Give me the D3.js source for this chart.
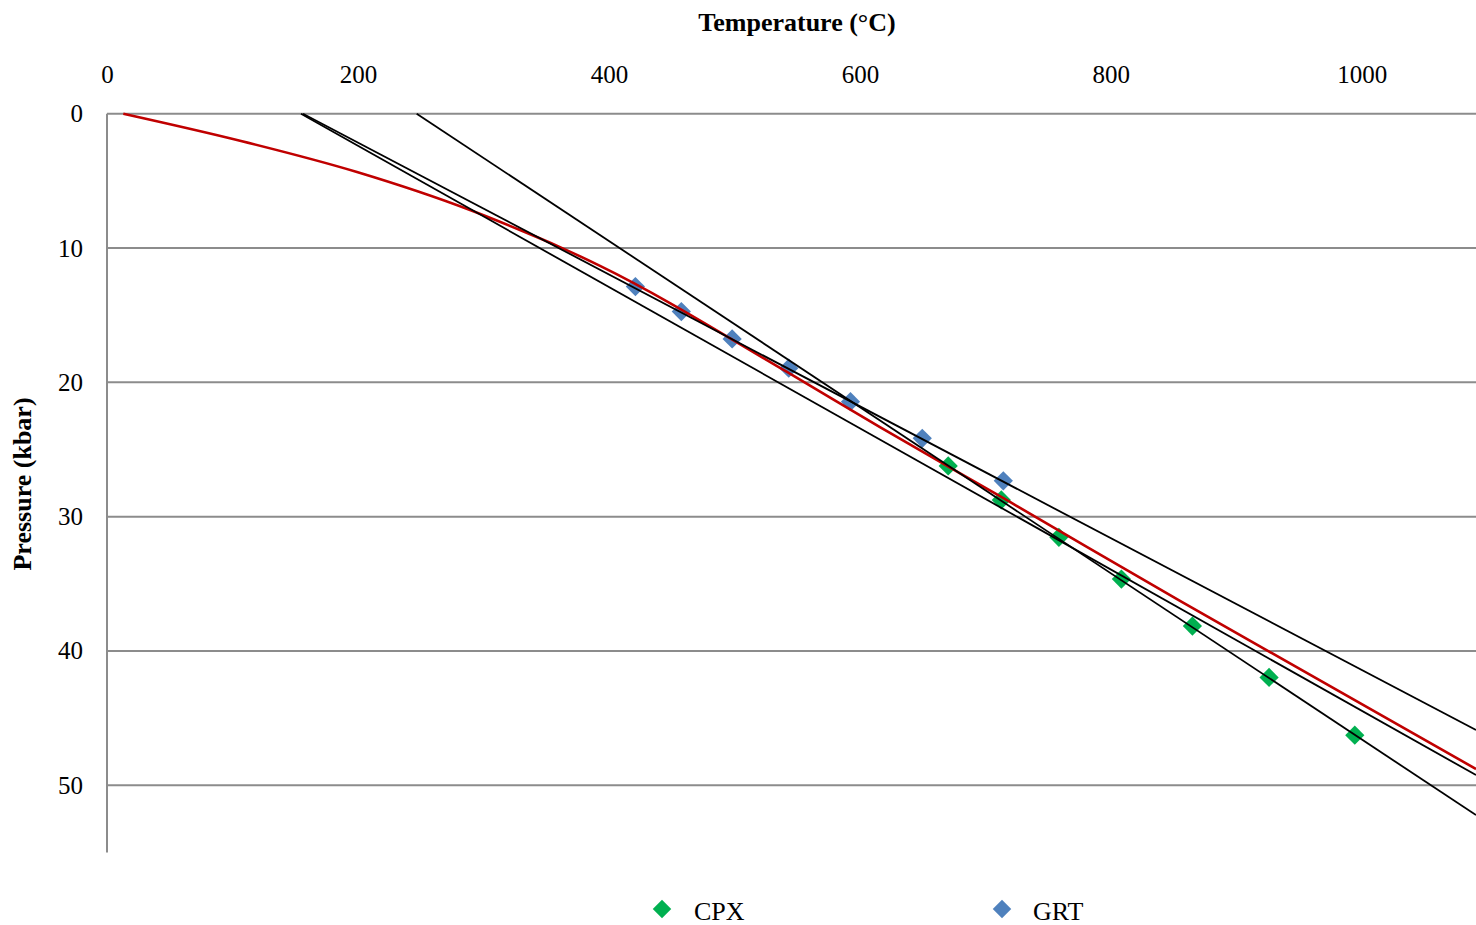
<!DOCTYPE html>
<html>
<head>
<meta charset="utf-8">
<script src="https://cdn.jsdelivr.net/npm/d3@7"></script>
<style>
  html, body { margin: 0; padding: 0; background: #fff; }
  svg { display: block; }
  text { font-family: "Liberation Serif", "Times New Roman", serif; fill: #000; }
</style>
</head>
<body>
<svg id="chart" width="1476" height="925"></svg>
<script>
// Axis ticks
const tempTicks = [0, 200, 400, 600, 800, 1000];
const pressTicks = [0, 10, 20, 30, 40, 50];

// Clinopyroxene thermobarometry (°C, kbar)
const cpxT = [670.4, 712.7, 758.6, 808.4, 865.0, 926.1, 994.4];
const cpxP = [26.23, 28.76, 31.54, 34.65, 38.15, 41.97, 46.27];

// Garnet thermobarometry (°C, kbar)
const grtT = [421.1, 457.7, 498.2, 543.3, 592.5, 649.7, 714.3];
const grtP = [12.87, 14.73, 16.77, 18.95, 21.44, 24.17, 27.33];

// Model geotherm
const geoT = [13, 106.8, 199.2, 289.3, 329.1, 361.0, 392.9, 541.9, 616.0, 719.6, 855.1, 1091];
const geoP = [0, 2.03, 4.34, 7.17, 8.66, 9.93, 11.33, 19.23, 23.33, 28.91, 36.28, 48.79];

// Linear regressions (end points)
const cpxFitT = [246.8, 1091];
const cpxFitP = [0, 52.22];
const grtFitT = [156.2, 1091];
const grtFitP = [0, 45.89];
const allFitT = [154.6, 1091];
const allFitP = [0, 49.24];

const svg = d3.select("#chart");
const plotLeft = 107, plotRight = 1476, plotTop = 113.7, plotBottom = 852.4;

const x = d3.scaleLinear().domain([0, 1091]).range([plotLeft, plotRight]);
const y = d3.scaleLinear().domain([0, 55]).range([plotTop, plotBottom]);

// Horizontal gridlines
svg.append("g")
  .selectAll("line")
  .data(pressTicks)
  .join("line")
  .attr("x1", plotLeft).attr("x2", plotRight)
  .attr("y1", d => y(d)).attr("y2", d => y(d))
  .attr("stroke", "#8c8c8c").attr("stroke-width", 2);

// Vertical axis line
svg.append("line")
  .attr("x1", plotLeft).attr("x2", plotLeft)
  .attr("y1", plotTop).attr("y2", plotBottom)
  .attr("stroke", "#8c8c8c").attr("stroke-width", 2);

// Top temperature axis labels
const xAxis = svg.append("g")
  .attr("transform", `translate(0,${plotTop})`)
  .call(d3.axisTop(x).tickValues(tempTicks).tickSize(0).tickPadding(31).tickFormat(d3.format("d")));
xAxis.select(".domain").remove();
xAxis.selectAll("text")
  .style("font-family", '"Liberation Serif", "Times New Roman", serif')
  .style("font-size", "25px").attr("fill", "#000");

// Left pressure axis labels
const yAxis = svg.append("g")
  .attr("transform", `translate(${plotLeft},0)`)
  .call(d3.axisLeft(y).tickValues(pressTicks).tickSize(0).tickPadding(24).tickFormat(d3.format("d")));
yAxis.select(".domain").remove();
yAxis.selectAll("text")
  .style("font-family", '"Liberation Serif", "Times New Roman", serif')
  .style("font-size", "25px").attr("fill", "#000");

// Axis titles
svg.append("text")
  .attr("x", 797).attr("y", 31)
  .attr("text-anchor", "middle")
  .style("font-size", "26px").style("font-weight", "bold")
  .text("Temperature (°C)");

svg.append("text")
  .attr("transform", "translate(31,484) rotate(-90)")
  .attr("text-anchor", "middle")
  .style("font-size", "26px").style("font-weight", "bold")
  .text("Pressure (kbar)");

// Plot clip
svg.append("clipPath").attr("id", "plotClip")
  .append("rect").attr("x", plotLeft).attr("y", plotTop - 2)
  .attr("width", plotRight - plotLeft).attr("height", plotBottom - plotTop + 2);

const plot = svg.append("g").attr("clip-path", "url(#plotClip)");

const diamond = d3.symbol().type(d3.symbolSquare).size(185);

// Markers
plot.append("g")
  .selectAll("path")
  .data(grtT.map((t, i) => [t, grtP[i]]))
  .join("path")
  .attr("d", diamond)
  .attr("transform", d => `translate(${x(d[0])},${y(d[1])}) rotate(45)`)
  .attr("fill", "#4f81bd");

plot.append("g")
  .selectAll("path")
  .data(cpxT.map((t, i) => [t, cpxP[i]]))
  .join("path")
  .attr("d", diamond)
  .attr("transform", d => `translate(${x(d[0])},${y(d[1])}) rotate(45)`)
  .attr("fill", "#00b050");

// Geotherm
const geoLine = d3.line().x(d => x(d[0])).y(d => y(d[1])).curve(d3.curveMonotoneX);
plot.append("path")
  .datum(geoT.map((t, i) => [t, geoP[i]]))
  .attr("d", geoLine)
  .attr("fill", "none")
  .attr("stroke", "#c00000")
  .attr("stroke-width", 2.6);

// Regression lines
const straight = d3.line().x(d => x(d[0])).y(d => y(d[1]));
[[cpxFitT, cpxFitP], [grtFitT, grtFitP], [allFitT, allFitP]].forEach(([ts, ps]) => {
  plot.append("path")
    .datum(ts.map((t, i) => [t, ps[i]]))
    .attr("d", straight)
    .attr("fill", "none")
    .attr("stroke", "#000")
    .attr("stroke-width", 1.8);
});

// Legend
const legendItems = [
  { name: "CPX", color: "#00b050", mx: 662, tx: 694 },
  { name: "GRT", color: "#4f81bd", mx: 1002, tx: 1033 }
];
const legend = svg.append("g");
legend.selectAll("path")
  .data(legendItems)
  .join("path")
  .attr("d", d3.symbol().type(d3.symbolSquare).size(170))
  .attr("transform", d => `translate(${d.mx},909) rotate(45)`)
  .attr("fill", d => d.color);
legend.selectAll("text")
  .data(legendItems)
  .join("text")
  .attr("x", d => d.tx).attr("y", 920)
  .style("font-size", "26px")
  .text(d => d.name);
</script>
</body>
</html>
